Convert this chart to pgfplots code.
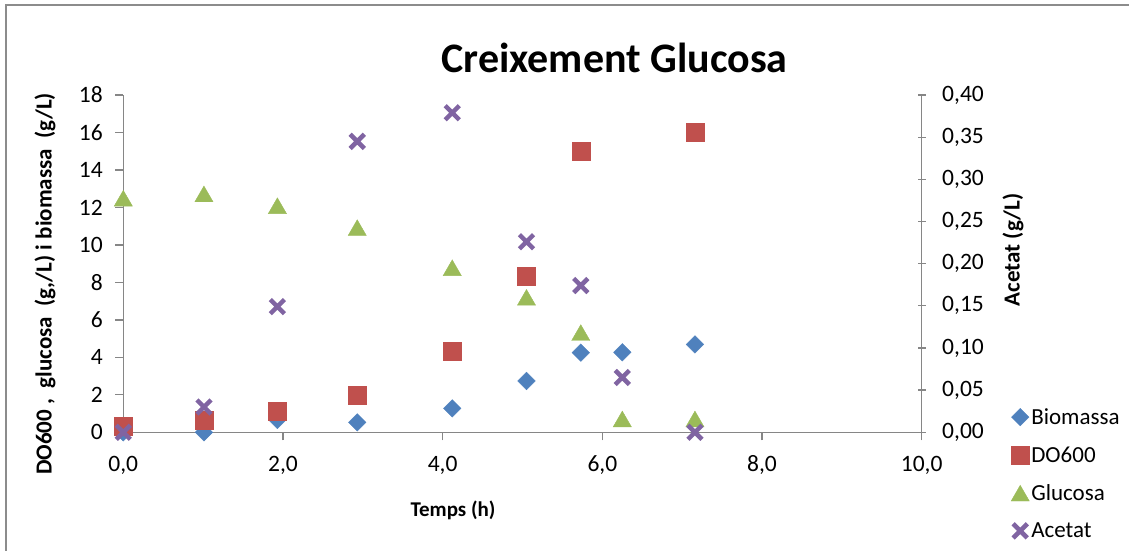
\documentclass[border=0pt]{standalone}
\usepackage{pgfplots}
\pgfplotsset{compat=1.18}
\usepackage{fontspec}
\setmainfont{Carlito}

\definecolor{bioC}{HTML}{4F81BD}
\definecolor{doC}{HTML}{C0504D}
\definecolor{gluC}{HTML}{9BBB59}
\definecolor{aceC}{HTML}{8064A2}
\definecolor{axgray}{HTML}{868686}
\definecolor{framegray}{HTML}{8C8C8C}

% time (h) and concentrations
\pgfplotstableread{
t     y
0.00  0.00
1.01  0.00
1.93  0.66
2.93  0.53
4.12  1.28
5.05  2.74
5.73  4.25
6.25  4.27
7.16  4.69
}\biomassa
\pgfplotstableread{
t     y
0.00  0.35
1.01  0.62
1.93  1.14
2.93  1.99
4.12  4.34
5.05  8.34
5.73  15.01
7.16  16.00
}\dosixhundred
\pgfplotstableread{
t     y
0.00  12.49
1.01  12.72
1.93  12.09
2.93  10.92
4.12  8.78
5.05  7.20
5.73  5.32
6.25  0.71
7.16  0.71
}\glucosa
\pgfplotstableread{
t     y
0.00  0.000
1.01  0.030
1.93  0.149
2.93  0.345
4.12  0.379
5.05  0.226
5.73  0.174
6.25  0.065
7.16  0.000
}\acetat

\pgfplotsset{
  common/.style={
    scale only axis, width=798.4pt, height=337.3pt,
    at={(123.3pt,118.7pt)}, anchor=south west,
    xmin=0, xmax=10, clip=false,
    tick style={draw=axgray, line width=1.3pt},
    major tick length=8pt,
    ticklabel style={font=\fontsize{23.5}{28}\selectfont},
    /pgf/number format/assume math mode=true,
    /pgf/number format/use comma,
  },
  plainlines/.style={
    axis line style={draw=axgray, line width=1.3pt, -},
    every outer x axis line/.append style={-},
    every outer y axis line/.append style={-},
    every inner x axis line/.append style={-},
    every inner y axis line/.append style={-},
    every x axis line/.append style={-},
    every y axis line/.append style={-},
  },
}

\begin{document}
\begin{tikzpicture}[x=1pt,y=1pt]
\path[use as bounding box] (0,0) rectangle (1129,551);
\draw[framegray, line width=1.5pt] (6,-2) -- (6,546) -- (1131,546);

\begin{axis}[
  common,
  axis x line=bottom, axis y line=left,
  plainlines,
  ymin=0, ymax=18,
  xtick={0,2,...,10}, ytick={0,2,...,18},
  tick align=outside,
  xticklabel style={yshift=-12pt, /pgf/number format/.cd, fixed, fixed zerofill, precision=1, use comma},
  yticklabel style={xshift=-9pt},
  legend style={at={(1.108,0.083)}, anchor=north west, draw=none, fill=none,
    font=\fontsize{23}{27}\selectfont, row sep=16.8pt,
    /tikz/every even column/.append style={column sep=2pt}},
  legend cell align=left,
]
\addplot[only marks, mark=square*, mark size=6.2pt,
  mark options={rotate=45, fill=bioC, draw=bioC, line width=0.4pt}] table[x=t,y=y] {\biomassa};
\addlegendentry{Biomassa}
\addplot[only marks, mark=square*, mark size=9pt,
  mark options={fill=doC, draw=doC, line width=0.4pt}] table[x=t,y=y] {\dosixhundred};
\addlegendentry{DO600}
\addplot[only marks, mark=triangle*, mark size=10.5pt,
  mark options={fill=gluC, draw=gluC, line width=0.4pt, yshift=-2.6pt}] table[x=t,y=y] {\glucosa};
\addlegendentry{Glucosa}
\addlegendimage{only marks, mark=x, mark size=10pt, mark options={draw=aceC, line width=4.5pt}}
\addlegendentry{Acetat}
\end{axis}

\begin{axis}[
  common,
  axis x line=none, axis y line=right,
  plainlines,
  ymin=0, ymax=0.4,
  ytick={0,0.05,0.10,0.15,0.20,0.25,0.30,0.35,0.40},
  tick align=center,
  yticklabel style={xshift=13pt, /pgf/number format/.cd, fixed, fixed zerofill, precision=2, use comma},
]
\addplot[only marks, mark=x, mark size=10pt,
  mark options={draw=aceC, line width=4.5pt}] table[x=t,y=y] {\acetat};
\end{axis}

\node[font=\bfseries\fontsize{42}{50}\selectfont] at (614.5,493) {Creixement Glucosa};
\node[font=\bfseries\fontsize{21}{25}\selectfont] at (453,41) {Temps (h)};
\node[font=\bfseries\fontsize{23}{27}\selectfont, rotate=90] at (45,267) {DO600 ,\ \ glucosa\ \ (g,/L) i biomassa\ \ (g/L)};
\node[font=\bfseries\fontsize{23}{27}\selectfont, rotate=90] at (1013,301) {Acetat (g/L)};
\end{tikzpicture}
\end{document}
